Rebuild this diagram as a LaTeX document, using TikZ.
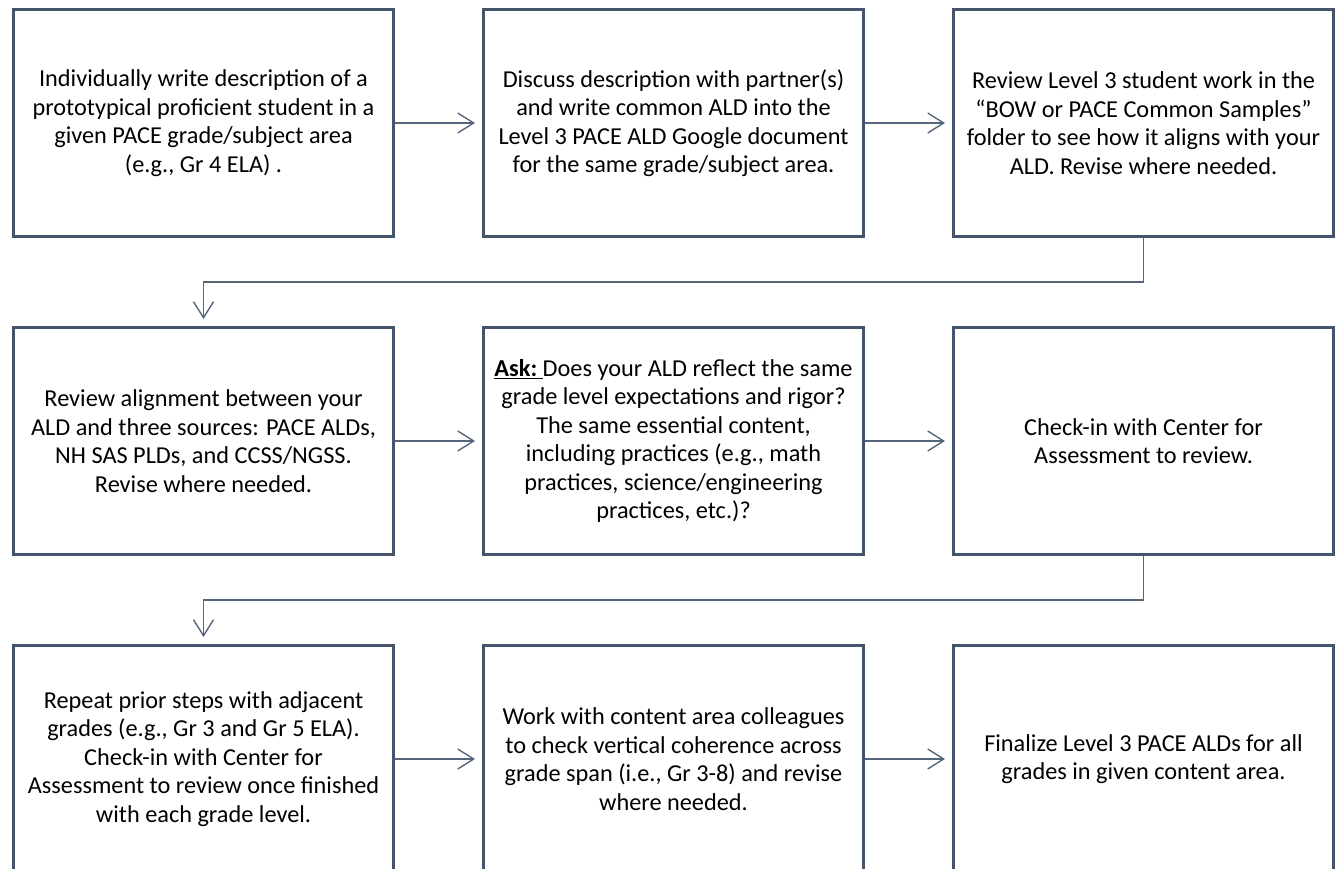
\documentclass[tikz,border=0pt]{standalone}
\usepackage{fontspec}
\setmainfont{Carlito}
\usepackage{tikz}
\usetikzlibrary{arrows.meta, positioning}
\definecolor{boxline}{HTML}{44546A}
\definecolor{linkline}{HTML}{56667D}
\tikzstyle{block} = [rectangle, draw=boxline, line width=3pt, fill=white,
  minimum width=380pt, minimum height=227pt, align=center,
  font=\fontsize{24.3}{28.5}\selectfont]
\tikzstyle{arrow} = [draw=linkline, line width=1.4pt, shorten >=7pt,
  -{Straight Barb[length=16pt, width=20pt, line width=1.4pt]}]

\begin{document}
\begin{tikzpicture}[x=1pt, y=-1pt]
    \useasboundingbox (0,0) rectangle (1340,869);
    \clip (0,0) rectangle (1340,869);
    \node[block] (write) at (203.5,123) {Individually write description of a\\prototypical proficient student in a\\given PACE grade/subject area\\(e.g., Gr 4 ELA) .};
    \node[block, right=87pt of write] (discuss) {Discuss description with partner(s)\\and write common ALD into the\\Level 3 PACE ALD Google document\\for the same grade/subject area.};
    \node[block, right=87pt of discuss] (samples) {Review Level 3 student work in the\\``BOW or PACE Common Samples''\\folder to see how it aligns with your\\ALD. Revise where needed.};
    \node[block, below=88pt of write] (align) {Review alignment between your\\ALD and three sources: PACE ALDs,\\NH SAS PLDs, and CCSS/NGSS.\\Revise where needed.};
    \node[block, right=87pt of align] (ask) {\underline{\textbf{Ask:}\ }Does your ALD reflect the same\\grade level expectations and rigor?\\The same essential content,\\including practices (e.g., math\\practices, science/engineering\\practices, etc.)?};
    \node[block, right=87pt of ask] (check) {Check-in with Center for\\Assessment to review.};
    \node[block, below=88pt of align] (repeat) {Repeat prior steps with adjacent\\grades (e.g., Gr 3 and Gr 5 ELA).\\Check-in with Center for\\Assessment to review once finished\\with each grade level.};
    \node[block, right=87pt of repeat] (vertical) {Work with content area colleagues\\to check vertical coherence across\\grade span (i.e., Gr 3-8) and revise\\where needed.};
    \node[block, right=87pt of vertical] (final) {Finalize Level 3 PACE ALDs for all\\grades in given content area.};
    \draw[arrow] (write) -- (discuss);
    \draw[arrow] (discuss) -- (samples);
    \draw[arrow] (samples.south) -- ++(0,44) -| (align.north);
    \draw[arrow] (align) -- (ask);
    \draw[arrow] (ask) -- (check);
    \draw[arrow] (check.south) -- ++(0,44) -| (repeat.north);
    \draw[arrow] (repeat) -- (vertical);
    \draw[arrow] (vertical) -- (final);
\end{tikzpicture}
\end{document}
